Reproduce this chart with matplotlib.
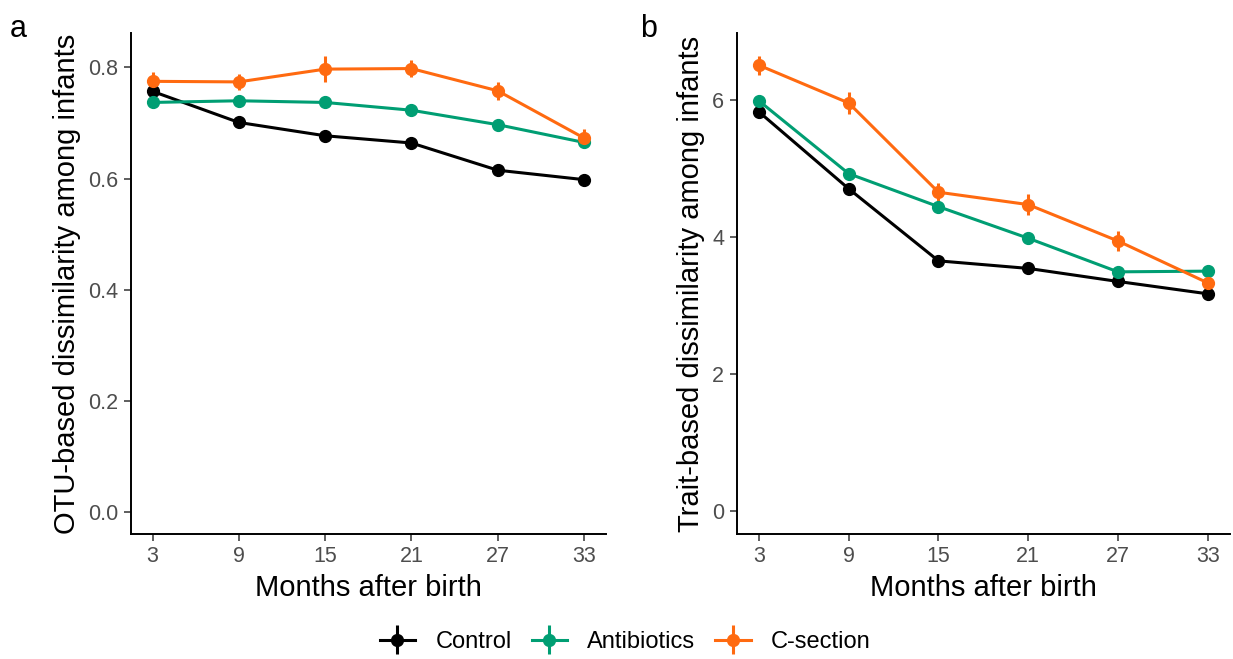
import matplotlib
matplotlib.use("Agg")
import matplotlib.pyplot as plt
from matplotlib.legend_handler import HandlerErrorbar
from matplotlib.container import ErrorbarContainer

plt.rcParams['font.family'] = ['Liberation Sans', 'DejaVu Sans']

months = [3, 9, 15, 21, 27, 33]
groups = ["Control", "Antibiotics", "C-section"]
colors = ["#000000", "#009E73", "#FF6A10"]

# OTU-based dissimilarity (panel a): means and standard errors
otu_mean = {
    "Control":     [0.757, 0.701, 0.677, 0.664, 0.615, 0.598],
    "Antibiotics": [0.737, 0.740, 0.737, 0.723, 0.697, 0.665],
    "C-section":   [0.775, 0.774, 0.797, 0.798, 0.758, 0.673],
}
otu_se = {
    "Control":     [0.006, 0.005, 0.005, 0.005, 0.005, 0.005],
    "Antibiotics": [0.006, 0.006, 0.006, 0.006, 0.006, 0.006],
    "C-section":   [0.016, 0.014, 0.024, 0.015, 0.016, 0.016],
}

# Trait-based dissimilarity (panel b): means and standard errors
trait_mean = {
    "Control":     [5.82, 4.70, 3.65, 3.54, 3.35, 3.17],
    "Antibiotics": [5.98, 4.92, 4.44, 3.98, 3.49, 3.50],
    "C-section":   [6.50, 5.95, 4.65, 4.47, 3.94, 3.33],
}
trait_se = {
    "Control":     [0.06, 0.05, 0.05, 0.05, 0.05, 0.05],
    "Antibiotics": [0.06, 0.06, 0.06, 0.06, 0.06, 0.06],
    "C-section":   [0.14, 0.16, 0.13, 0.15, 0.14, 0.13],
}

fig = plt.figure(figsize=(12.33, 6.59), dpi=100)
ax_a = fig.add_axes([0.1062, 0.1897, 0.3849, 0.7602])
ax_b = fig.add_axes([0.5974, 0.1897, 0.4002, 0.7602])


def draw_panel(ax, means, ses, ylim, yticks, yticklabels, ylabel):
    handles = []
    for g, c in zip(groups, colors):
        h = ax.errorbar(months, means[g], yerr=ses[g], color=c, lw=2.2,
                        marker="o", ms=8.5, elinewidth=2.2, capsize=0,
                        label=g, zorder=3)
        handles.append(h)
    ax.set_xlim(1.5, 34.5)
    ax.set_ylim(*ylim)
    ax.set_xticks(months)
    ax.set_xticklabels([str(m) for m in months])
    ax.set_yticks(yticks)
    ax.set_yticklabels(yticklabels)
    for s in ["top", "right"]:
        ax.spines[s].set_visible(False)
    for s in ["left", "bottom"]:
        ax.spines[s].set_linewidth(1.4)
        ax.spines[s].set_color("black")
    ax.tick_params(axis="both", length=5, width=1.1, color="#333333",
                   labelsize=15.5, labelcolor="#4D4D4D", pad=4)
    ax.set_xlabel("Months after birth", fontsize=21, color="black", labelpad=5)
    ax.set_ylabel(ylabel, fontsize=21, color="black", labelpad=5)
    return handles


handles = draw_panel(ax_a, otu_mean, otu_se, (-0.04, 0.862),
                     [0.0, 0.2, 0.4, 0.6, 0.8],
                     ["0.0", "0.2", "0.4", "0.6", "0.8"],
                     "OTU-based dissimilarity among infants")
draw_panel(ax_b, trait_mean, trait_se, (-0.33, 6.97),
           [0, 2, 4, 6], ["0", "2", "4", "6"],
           "Trait-based dissimilarity among infants")

fig.text(0.008, 0.978, "a", fontsize=22, va="top", ha="left")
fig.text(0.519, 0.978, "b", fontsize=22, va="top", ha="left")

fig.legend(handles, groups, loc="center", bbox_to_anchor=(0.507, 0.026),
           ncol=3, frameon=False, fontsize=17, handlelength=1.5,
           columnspacing=0.85, handletextpad=0.85,
           handler_map={ErrorbarContainer: HandlerErrorbar(yerr_size=0.6)})

fig.savefig("out.png", dpi=100)
